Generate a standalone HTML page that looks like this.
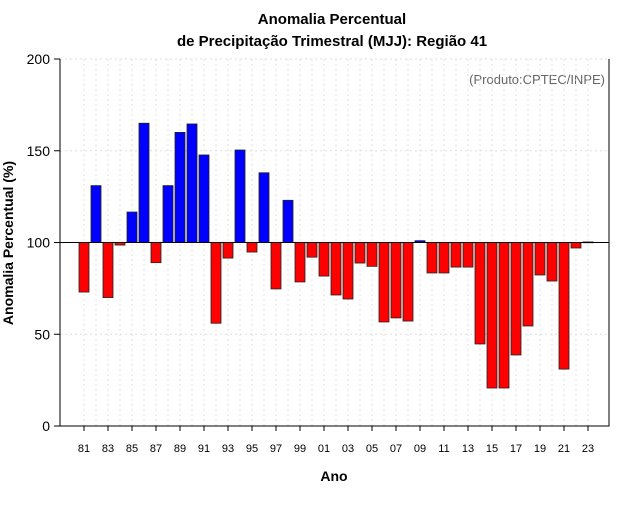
<!DOCTYPE html>
<html><head><meta charset="utf-8"><style>
body{margin:0;background:#fff}
svg text{font-family:"Liberation Sans",sans-serif}
</style></head><body>
<svg id="chart" width="640" height="500">
<text x="332" y="24" text-anchor="middle" font-size="15" font-weight="bold">Anomalia Percentual</text>
<text x="332" y="46" text-anchor="middle" font-size="15" font-weight="bold">de Precipitação Trimestral (MJJ): Região 41</text>
<text x="605" y="84" text-anchor="end" font-size="13" fill="#666">(Produto:CPTEC/INPE)</text>
<text x="334" y="481" text-anchor="middle" font-size="14" font-weight="bold">Ano</text>
<text transform="translate(13,243) rotate(-90)" text-anchor="middle" font-size="14" font-weight="bold">Anomalia Percentual (%)</text>
<g id="grid"></g><g id="bars"></g><g id="axes"></g>
</svg>
<script>
const years=[81,82,83,84,85,86,87,88,89,90,91,92,93,94,95,96,97,98,99,0,1,2,3,4,5,6,7,8,9,10,11,12,13,14,15,16,17,18,19,20,21,22,23];
const values=[73,131,70,98.6,116.6,165,89,131,160,164.6,147.7,56,91.5,150.4,94.8,138,74.7,123,78.5,92,81.7,71.4,69.2,88.8,87,56.7,58.9,57.2,101,83.4,83.4,86.6,86.6,44.7,20.7,20.7,38.7,54.5,82.3,79,31,97,100.3];
const yTicks=[0,50,100,150,200];
const NS="http://www.w3.org/2000/svg";
const X0=60,X1=609,Y0=426,Y1=59;
const yS=v=>Y0-(v/200)*(Y0-Y1);
const xS=i=>84+12*i;
function mk(t,a,p){const e=document.createElementNS(NS,t);for(const k in a)e.setAttribute(k,a[k]);p.appendChild(e);return e;}
const grid=document.getElementById('grid'),bars=document.getElementById('bars'),axes=document.getElementById('axes');
yTicks.forEach(v=>{if(v===0)return;const l=mk('line',{x1:X0,x2:X1,y1:yS(v),y2:yS(v),stroke:'#ddd','stroke-dasharray':'2,3'},grid);

});
years.forEach((y,i)=>{const l=mk('line',{x1:xS(i),x2:xS(i),y1:Y1,y2:Y0,stroke:'#e2e2e2','stroke-dasharray':'2,3'},grid);

});
values.forEach((v,i)=>{const top=Math.min(yS(v),yS(100)),h=Math.abs(yS(v)-yS(100));
const r=mk('rect',{x:xS(i)-5,y:top,width:10,height:Math.max(h,0.8),fill:v>=100?'#0000ff':'#ff0000',stroke:'#222','stroke-width':0.8},bars);

});
const ref=mk('line',{x1:X0,x2:X1,y1:yS(100),y2:yS(100),stroke:'#000','stroke-width':1},axes);


const fr=mk('path',{d:`M${X0},${Y1}V${Y0}H${X1}V${Y1}`,fill:'none',stroke:'#000'},axes);


yTicks.forEach(v=>{mk('line',{x1:X0-6,x2:X0,y1:yS(v),y2:yS(v),stroke:'#000'},axes);
const t=mk('text',{x:X0-10,y:yS(v)+5,'text-anchor':'end','font-size':14},axes);t.textContent=v;

});
years.forEach((y,i)=>{if(i%2)return;mk('line',{x1:xS(i),x2:xS(i),y1:Y0,y2:Y0+5,stroke:'#000'},axes);
const t=mk('text',{x:xS(i),y:452,'text-anchor':'middle','font-size':11},axes);t.textContent=String(y).padStart(2,'0');

});
</script>
</body></html>
